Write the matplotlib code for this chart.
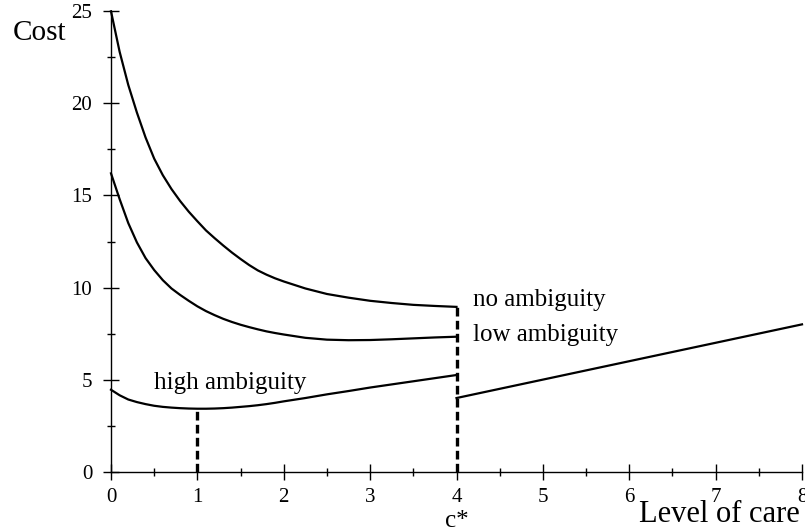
import matplotlib
matplotlib.use("Agg")
import matplotlib.pyplot as plt

# ---- data ----
care = [0.0, 0.1, 0.2, 0.3, 0.4, 0.5, 0.6, 0.7, 0.8, 0.9, 1.0,
        1.1, 1.2, 1.3, 1.4, 1.5, 1.6, 1.7, 1.8, 1.9, 2.0,
        2.25, 2.5, 2.75, 3.0, 3.25, 3.5, 3.75, 4.0]
no_ambiguity = [25.0, 22.8, 21.0, 19.5, 18.15, 17.0, 16.1, 15.35, 14.7, 14.12, 13.6,
                13.1, 12.68, 12.28, 11.9, 11.55, 11.22, 10.93, 10.7, 10.5, 10.33,
                9.95, 9.65, 9.45, 9.28, 9.16, 9.06, 9.0, 8.95]
low_ambiguity = [16.2, 14.8, 13.5, 12.45, 11.6, 10.95, 10.4, 9.95, 9.6, 9.28, 8.98,
                 8.72, 8.5, 8.3, 8.13, 7.98, 7.85, 7.73, 7.62, 7.53, 7.45,
                 7.27, 7.17, 7.14, 7.15, 7.19, 7.24, 7.29, 7.33]
high_ambiguity = [4.45, 4.15, 3.92, 3.78, 3.67, 3.58, 3.52, 3.48, 3.45, 3.43, 3.42,
                  3.42, 3.43, 3.45, 3.48, 3.52, 3.56, 3.61, 3.67, 3.74, 3.82,
                  4.0, 4.2, 4.38, 4.57, 4.74, 4.91, 5.08, 5.25]
care_above = [4.0, 8.0]
cost_above = [4.0, 8.0]
c_star = 4.0
c_star_top = 8.95
high_min_care = 1.0
high_min_cost = 3.42

x_ticks = [0, 1, 2, 3, 4, 5, 6, 7, 8]
y_ticks = [0, 5, 10, 15, 20, 25]

serif = ["Liberation Serif", "DejaVu Serif"]
plt.rcParams["font.family"] = serif

fig = plt.figure(figsize=(8.05, 5.31), dpi=100)
ax = fig.add_axes([111 / 805, (531 - 471.7) / 531, 691 / 805, 460.4 / 531])

lw = 1.6
for series in (no_ambiguity, low_ambiguity, high_ambiguity):
    ax.plot(care, series, color="black", lw=lw, clip_on=False, solid_joinstyle="round")
ax.plot(care_above, cost_above, color="black", lw=lw, clip_on=False)

dash_kw = dict(color="black", lw=2.4, linestyle=(0, (2.6, 1.3)), clip_on=False)
ax.plot([c_star, c_star], [0, c_star_top], **dash_kw)
ax.plot([high_min_care, high_min_care], [0, high_min_cost], **dash_kw)

ax.set_xlim(0, 8)
ax.set_ylim(0, 25)
for s in ["top", "right"]:
    ax.spines[s].set_visible(False)
for s in ["left", "bottom"]:
    ax.spines[s].set_linewidth(1.0)

ax.set_xticks(x_ticks)
ax.set_yticks(y_ticks)
ax.set_xticks([v + 0.5 for v in x_ticks[:-1]], minor=True)
ax.set_yticks([v + 2.5 for v in y_ticks[:-1]], minor=True)
ax.tick_params(which="major", direction="inout", length=11, width=1.0, labelsize=15)
ax.tick_params(which="minor", direction="inout", length=5.5, width=1.0)
ax.tick_params(axis="x", which="major", pad=6)
ax.tick_params(axis="y", which="major", pad=8)

lab = 18
ax.text(4.19, 9.0, "no ambiguity", fontsize=lab, ha="left", va="baseline")
ax.text(4.19, 7.1, "low ambiguity", fontsize=lab, ha="left", va="baseline")
ax.text(0.5, 4.48, "high ambiguity", fontsize=lab, ha="left", va="baseline")

fig.text(457 / 805, 1 - 527 / 531, "c*", fontsize=18, ha="center", va="baseline")
fig.text(800 / 805, 1 - 521.7 / 531, "Level of care", fontsize=22, ha="right", va="baseline")
fig.text(13 / 805, 1 - 40 / 531, "Cost", fontsize=21, ha="left", va="baseline")

fig.savefig("out.png", dpi=100)
